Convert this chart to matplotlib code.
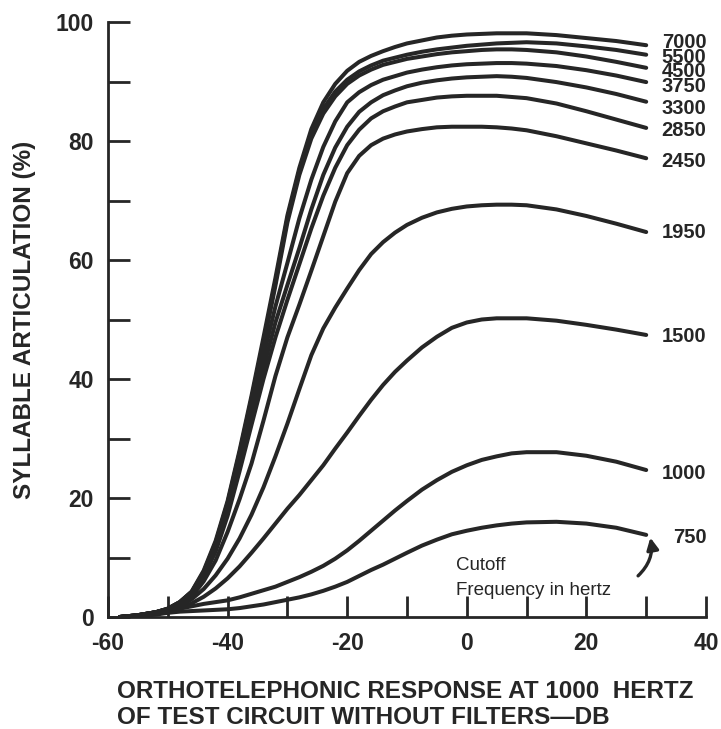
import numpy as np
import matplotlib
matplotlib.use('Agg')
from matplotlib import pyplot as plt

plt.rcParams['font.family'] = ['Liberation Sans', 'DejaVu Sans']
plt.rcParams['axes.unicode_minus'] = False

# response at 1000 Hz (dB)
x = [-58, -55, -52, -50, -48, -46, -44, -42, -40, -38, -36, -34, -32, -30, -28, -26,
     -24, -22, -20, -18, -16, -14, -12, -10, -7.5, -5, -2.5, 0, 2.5, 5, 7.5, 10,
     15, 20, 25, 30]

# syllable articulation (%) per cutoff frequency
f7000 = [0, 0.3, 0.8, 1.4, 2.5, 4.3, 7.8, 12.8, 19.5, 28, 37.2, 47, 57, 67.5, 75.5, 82,
         86.5, 89.6, 91.8, 93.3, 94.3, 95.1, 95.8, 96.4, 96.9, 97.4, 97.7, 97.9, 98.0, 98.1, 98.1, 98.1,
         97.8, 97.3, 96.8, 96.1]
f5500 = [0, 0.3, 0.8, 1.4, 2.5, 4.2, 7.6, 12.5, 19.2, 27.6, 36.7, 46.3, 56.3, 67, 75, 81.2,
         85.4, 88.3, 90.3, 91.7, 92.7, 93.5, 94.0, 94.5, 95.0, 95.4, 95.7, 96.0, 96.2, 96.4, 96.5, 96.6,
         96.4, 95.9, 95.3, 94.5]
f4500 = [0, 0.3, 0.8, 1.4, 2.5, 4.2, 7.4, 12.2, 18.8, 27.2, 36.2, 45.7, 55.7, 66.3, 74.3, 80.4,
         84.6, 87.5, 89.6, 91.0, 92.0, 92.8, 93.3, 93.8, 94.2, 94.6, 94.9, 95.1, 95.3, 95.4, 95.4, 95.3,
         94.9, 94.2, 93.3, 92.3]
f3750 = [0, 0.3, 0.8, 1.3, 2.4, 4.1, 7.2, 11.8, 18.3, 26.3, 34.8, 43.8, 52.2, 59.5, 67, 73.5,
         79, 83.3, 86.5, 88.2, 89.4, 90.3, 90.9, 91.5, 92.0, 92.4, 92.7, 92.9, 93.0, 93.1, 93.1, 93.0,
         92.6, 91.9, 91, 89.9]
f3300 = [0, 0.3, 0.8, 1.3, 2.3, 4, 7, 11.4, 17.6, 25.3, 33.5, 41.8, 49.5, 55.8, 62, 68.5,
         74.3, 78.9, 82.4, 84.9, 86.5, 87.7, 88.5, 89.2, 89.8, 90.2, 90.5, 90.7, 90.8, 90.9, 90.8, 90.6,
         89.9, 89, 87.9, 86.6]
f2850 = [0, 0.3, 0.8, 1.3, 2.2, 3.8, 6.8, 11, 17, 24.5, 32.3, 40, 47, 53.3, 59.3, 65.3,
         70.8, 75.5, 79.3, 81.9, 83.8, 85.0, 85.8, 86.5, 86.9, 87.3, 87.5, 87.6, 87.6, 87.6, 87.4, 87.2,
         86.3, 85, 83.6, 82.2]
f2450 = [0, 0.3, 0.8, 1.2, 2, 3.4, 6, 9.5, 14.3, 19.8, 25.8, 33, 40.5, 47, 52.5, 58.2,
         64, 69.8, 74.6, 77.5, 79.3, 80.4, 81.1, 81.6, 82.0, 82.3, 82.4, 82.4, 82.4, 82.3, 82.1, 81.8,
         80.8, 79.6, 78.4, 77.1]
f1950 = [0, 0.2, 0.6, 1.1, 1.8, 3, 4.7, 7, 9.8, 13.2, 17.2, 21.8, 27, 32.5, 38.3, 44,
         48.5, 52, 55.2, 58.3, 61.0, 63.0, 64.6, 65.9, 67.1, 68.0, 68.6, 69.0, 69.2, 69.3, 69.3, 69.2,
         68.5, 67.4, 66.1, 64.7]
f1500 = [0, 0.2, 0.6, 1, 1.5, 2.3, 3.4, 4.8, 6.5, 8.5, 10.8, 13.2, 15.7, 18.2, 20.5, 23,
         25.5, 28.3, 31, 33.8, 36.5, 39, 41.2, 43.1, 45.3, 47.1, 48.6, 49.5, 50.0, 50.2, 50.2, 50.2,
         49.8, 49.1, 48.3, 47.4]
f1000 = [0, 0.2, 0.5, 0.9, 1.4, 1.8, 2.2, 2.5, 2.8, 3.3, 3.9, 4.5, 5.1, 5.9, 6.7, 7.6,
         8.6, 9.8, 11.2, 12.8, 14.5, 16.2, 17.9, 19.5, 21.4, 23, 24.4, 25.5, 26.4, 27, 27.5, 27.7,
         27.7, 27.1, 26.1, 24.7]
f750 = [0, 0.2, 0.4, 0.7, 0.9, 1, 1.1, 1.2, 1.3, 1.5, 1.8, 2.1, 2.5, 2.9, 3.3, 3.8,
        4.4, 5.1, 5.9, 6.9, 7.9, 8.8, 9.8, 10.8, 12, 13, 13.9, 14.5, 15, 15.4, 15.7, 15.9,
        16, 15.7, 15, 13.8]

labels = ['7000', '5500', '4500', '3750', '3300', '2850', '2450', '1950', '1500', '1000', '750']
label_y = [96.5, 94.1, 91.6, 89.1, 85.5, 81.8, 76.6, 64.7, 47.2, 24.2, 13.3]
curves = [f7000, f5500, f4500, f3750, f3300, f2850, f2450, f1950, f1500, f1000, f750]

ink = '#262626'

fig = plt.figure(figsize=(7.21, 7.29), dpi=100)
ax = fig.add_axes([108/721, 1-617/729, 598/721, 595/729])

for c in curves:
    ax.plot(x, c, color=ink, lw=2.9, solid_capstyle='round', solid_joinstyle='round')

for lab, ly in zip(labels, label_y):
    lx = 34.5 if lab == '750' else 32.6
    ax.text(lx, ly, lab, fontsize=14.5, fontweight='bold', color=ink, ha='left', va='center')

# note + arrow
ax.text(-1.8, 8.7, 'Cutoff', fontsize=13.5, color=ink, ha='left', va='center')
ax.text(-1.8, 4.4, 'Frequency in hertz', fontsize=13.5, color=ink, ha='left', va='center')
ax.annotate('', xy=(30.6, 13.8), xytext=(28.3, 6.6),
            arrowprops=dict(arrowstyle='-|>,head_length=0.7,head_width=0.35', color=ink, lw=2.4,
                            connectionstyle='arc3,rad=0.3'))

ax.set_xlim(-60, 40)
ax.set_ylim(0, 100)
ax.spines['top'].set_visible(False)
ax.spines['right'].set_visible(False)
for s in ['left', 'bottom']:
    ax.spines[s].set_linewidth(2)
    ax.spines[s].set_color(ink)

xt = np.arange(-60, 41, 10)
yt = np.arange(0, 101, 10)
ax.set_xticks(xt)
ax.set_yticks(yt)
ax.set_xticklabels([str(v) if v % 20 == 0 else '' for v in xt])
ax.set_yticklabels([str(v) if v % 20 == 0 else '' for v in yt])
ax.tick_params(axis='y', direction='in', length=16, width=2, color=ink, pad=10,
               labelsize=16.5, labelcolor=ink)
ax.tick_params(axis='x', direction='in', length=15, width=2, color=ink, pad=11,
               labelsize=16.5, labelcolor=ink)
for t in ax.get_xticklabels() + ax.get_yticklabels():
    t.set_fontweight('bold')

fig.text(25/721, 1-320/729, 'SYLLABLE ARTICULATION (%)', rotation=90, ha='center', va='center',
         fontsize=17.5, fontweight='bold', color=ink)
fig.text(117/721, 1-692/729, 'ORTHOTELEPHONIC RESPONSE AT 1000  HERTZ', ha='left', va='center',
         fontsize=17.5, fontweight='bold', color=ink)
fig.text(117/721, 1-718/729, 'OF TEST CIRCUIT WITHOUT FILTERS\u2014DB', ha='left', va='center',
         fontsize=17.5, fontweight='bold', color=ink)

fig.savefig('out.png', dpi=100)
